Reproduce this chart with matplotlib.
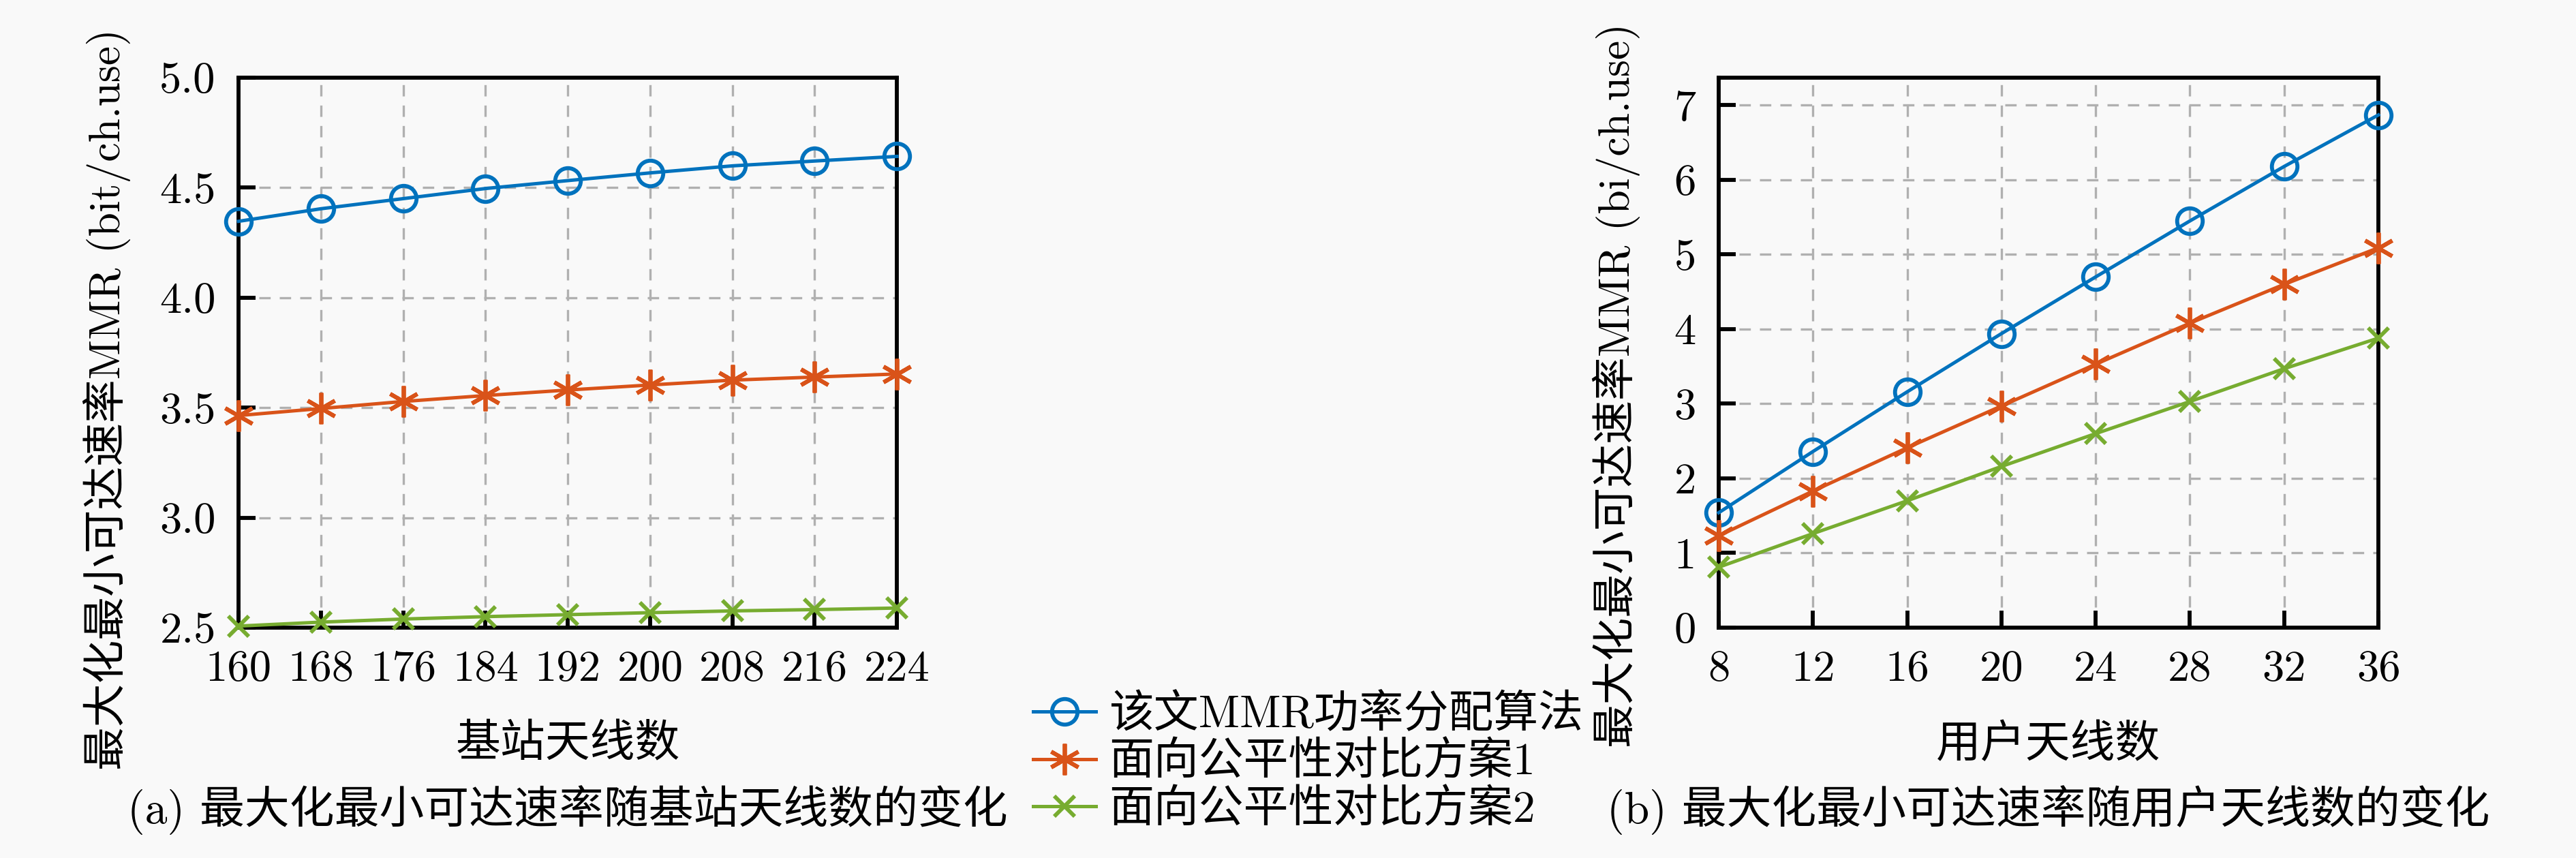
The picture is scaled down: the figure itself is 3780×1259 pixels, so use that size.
import matplotlib
matplotlib.use("Agg")
import matplotlib.pyplot as plt

plt.rcParams['font.family'] = ['cmr10', 'Noto Sans CJK SC']
plt.rcParams['mathtext.fontset'] = 'cm'
plt.rcParams['axes.unicode_minus'] = False

# (a) base-station antennas
bs_antennas = [160, 168, 176, 184, 192, 200, 208, 216, 224]
mmr_bs_proposed = [4.347, 4.404, 4.450, 4.496, 4.532, 4.567, 4.599, 4.621, 4.642]
mmr_bs_scheme1 = [3.464, 3.496, 3.528, 3.555, 3.580, 3.603, 3.625, 3.639, 3.653]
mmr_bs_scheme2 = [2.507, 2.525, 2.539, 2.550, 2.559, 2.568, 2.576, 2.582, 2.589]

# (b) user antennas
user_antennas = [8, 12, 16, 20, 24, 28, 32, 36]
mmr_user_proposed = [1.54, 2.36, 3.16, 3.94, 4.70, 5.45, 6.18, 6.87]
mmr_user_scheme1 = [1.23, 1.83, 2.41, 2.97, 3.53, 4.08, 4.60, 5.09]
mmr_user_scheme2 = [0.81, 1.26, 1.70, 2.16, 2.60, 3.03, 3.47, 3.88]

labels = ['该文MMR功率分配算法', '面向公平性对比方案1', '面向公平性对比方案2']
colors = ['#0072BD', '#D95319', '#77AC30']
markers = ['o', (6, 2, 0), 'x']
sizes = [9, 11, 7]

bg = '#f9f9f9'
fs = 15.8
fig = plt.figure(figsize=(12.6, 4.1967), dpi=300, facecolor=bg)
ax1 = fig.add_axes([0.0926, 0.2685, 0.2556, 0.641], facecolor=bg)
ax2 = fig.add_axes([0.6672, 0.2685, 0.2561, 0.641], facecolor=bg)


def style(ax):
    ax.grid(True, linestyle=(0, (5, 4)), color='#b0b0b0', linewidth=0.8)
    ax.set_axisbelow(True)
    ax.tick_params(direction='in', length=6, width=1.4, labelsize=15.5,
                   top=False, right=False, pad=8)
    for s in ax.spines.values():
        s.set_linewidth(1.4)


series_a = [mmr_bs_proposed, mmr_bs_scheme1, mmr_bs_scheme2]
handles = []
for y, c, m, ms in zip(series_a, colors, markers, sizes):
    h, = ax1.plot(bs_antennas, y, color=c, marker=m, markersize=ms,
                  markerfacecolor='none', markeredgewidth=1.4, linewidth=1.2,
                  clip_on=False, zorder=3)
    handles.append(h)
ax1.set_xlim(160, 224)
ax1.set_ylim(2.5, 5.0)
ax1.set_xticks(bs_antennas, [str(v) for v in bs_antennas])
yt = [2.5, 3.0, 3.5, 4.0, 4.5, 5.0]
ax1.set_yticks(yt, [f'{v:.1f}' for v in yt])
style(ax1)
ax1.set_xlabel('基站天线数', fontsize=fs, labelpad=12)
ax1.set_ylabel('最大化最小可达速率MMR (bit/ch.use)', fontsize=15.3, va='center')
ax1.yaxis.set_label_coords(-0.2, 0.415)

series_b = [mmr_user_proposed, mmr_user_scheme1, mmr_user_scheme2]
for y, c, m, ms in zip(series_b, colors, markers, sizes):
    ax2.plot(user_antennas, y, color=c, marker=m, markersize=ms,
             markerfacecolor='none', markeredgewidth=1.4, linewidth=1.2,
             clip_on=False, zorder=3)
ax2.set_xlim(8, 36)
ax2.set_ylim(0, 7.37)
ax2.set_xticks(user_antennas, [str(v) for v in user_antennas])
ax2.set_yticks(range(8), [str(v) for v in range(8)])
style(ax2)
ax2.set_xlabel('用户天线数', fontsize=fs, labelpad=12)
ax2.set_ylabel('最大化最小可达速率MMR (bi/ch.use)', fontsize=15.3, va='center')
ax2.yaxis.set_label_coords(-0.155, 0.44)

fig.text(0.2204, 0.056, '(a) 最大化最小可达速率随基站天线数的变化',
         ha='center', va='center', fontsize=fs)
fig.text(0.7953, 0.056, '(b) 最大化最小可达速率随用户天线数的变化',
         ha='center', va='center', fontsize=fs)

fig.legend(handles, labels, loc='upper left', bbox_to_anchor=(0.394, 0.212),
           frameon=False, fontsize=fs, handlelength=1.4, handletextpad=0.3,
           labelspacing=0.12, borderaxespad=0)

fig.savefig('out.png', dpi=300, facecolor=bg)
